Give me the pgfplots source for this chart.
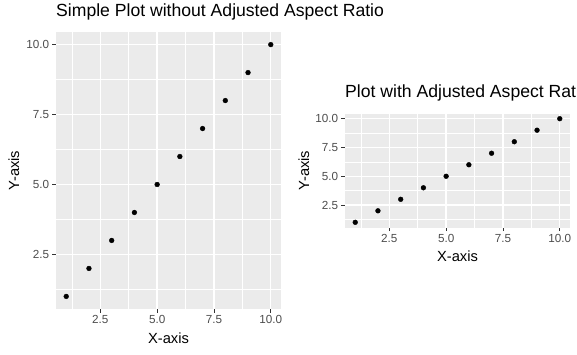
\documentclass[border=0pt]{standalone}
\usepackage{pgfplots}
\pgfplotsset{compat=1.18}
\usepackage{fontspec}
\setmainfont{Liberation Sans}
\definecolor{panelbg}{HTML}{EBEBEB}
\definecolor{tickcol}{HTML}{333333}
\definecolor{ticklab}{HTML}{4D4D4D}
\pgfplotsset{ggstyle/.style={
  scale only axis,
  axis background/.style={fill=panelbg},
  axis line style={draw=none},
  xmin=0.55, xmax=10.45, ymin=0.55, ymax=10.45,
  xtick={2.5,5,7.5,10}, ytick={2.5,5,7.5,10},
  minor xtick={1.25,3.75,6.25,8.75}, minor ytick={1.25,3.75,6.25,8.75},
  grid=both,
  major grid style={white, line width=1.4pt},
  minor grid style={white, line width=0.7pt},
  xtick pos=bottom, ytick pos=left,
  tick align=outside, major tick length=3.67pt, minor tick length=0pt,
  tick style={tickcol, line width=0.8pt},
  xticklabel style={font=\fontsize{11.7}{12}\selectfont, text=ticklab, anchor=base, inner sep=0pt, yshift=-11pt},
  yticklabel style={font=\fontsize{11.7}{12}\selectfont, text=ticklab, anchor=east, inner sep=0pt, xshift=-3pt},
  /pgf/number format/.cd, fixed, fixed zerofill, precision=1, assume math mode=true, /pgfplots/.cd,
  title style={at={(axis description cs:0,1)}, anchor=base west, inner sep=0pt, yshift=10pt, font=\fontsize{17.6}{18}\selectfont, text=black},
  xlabel style={at={(axis description cs:0.5,0)}, anchor=base, inner sep=0pt, yshift=-34.3pt, font=\fontsize{14.7}{15}\selectfont},
  ylabel style={at={(axis description cs:0,0.5)}, anchor=base, inner sep=0pt, font=\fontsize{14.7}{15}\selectfont},
  xlabel={X-axis}, ylabel={Y-axis},
}}
\begin{document}
\begin{tikzpicture}[x=1pt,y=1pt]
\useasboundingbox (0,0) rectangle (577,354);
\clip (0,0) rectangle (577,354);
\begin{axis}[ggstyle, at={(56pt,45pt)}, anchor=south west, width=225pt, height=277pt,
  title={Simple Plot without Adjusted Aspect Ratio},
  ylabel style={yshift=37pt}]
\addplot[only marks, mark=*, mark size=2.4pt, black] coordinates {(1,1) (2,2) (3,3) (4,4) (5,5) (6,6) (7,7) (8,8) (9,9) (10,10)};
\end{axis}
\begin{axis}[ggstyle, at={(345pt,126.5pt)}, anchor=south west, width=225pt, height=114pt,
  title={Plot with Adjusted Aspect Ratio},
  ylabel style={yshift=36pt}]
\addplot[only marks, mark=*, mark size=2.4pt, black] coordinates {(1,1) (2,2) (3,3) (4,4) (5,5) (6,6) (7,7) (8,8) (9,9) (10,10)};
\end{axis}
\end{tikzpicture}
\end{document}
